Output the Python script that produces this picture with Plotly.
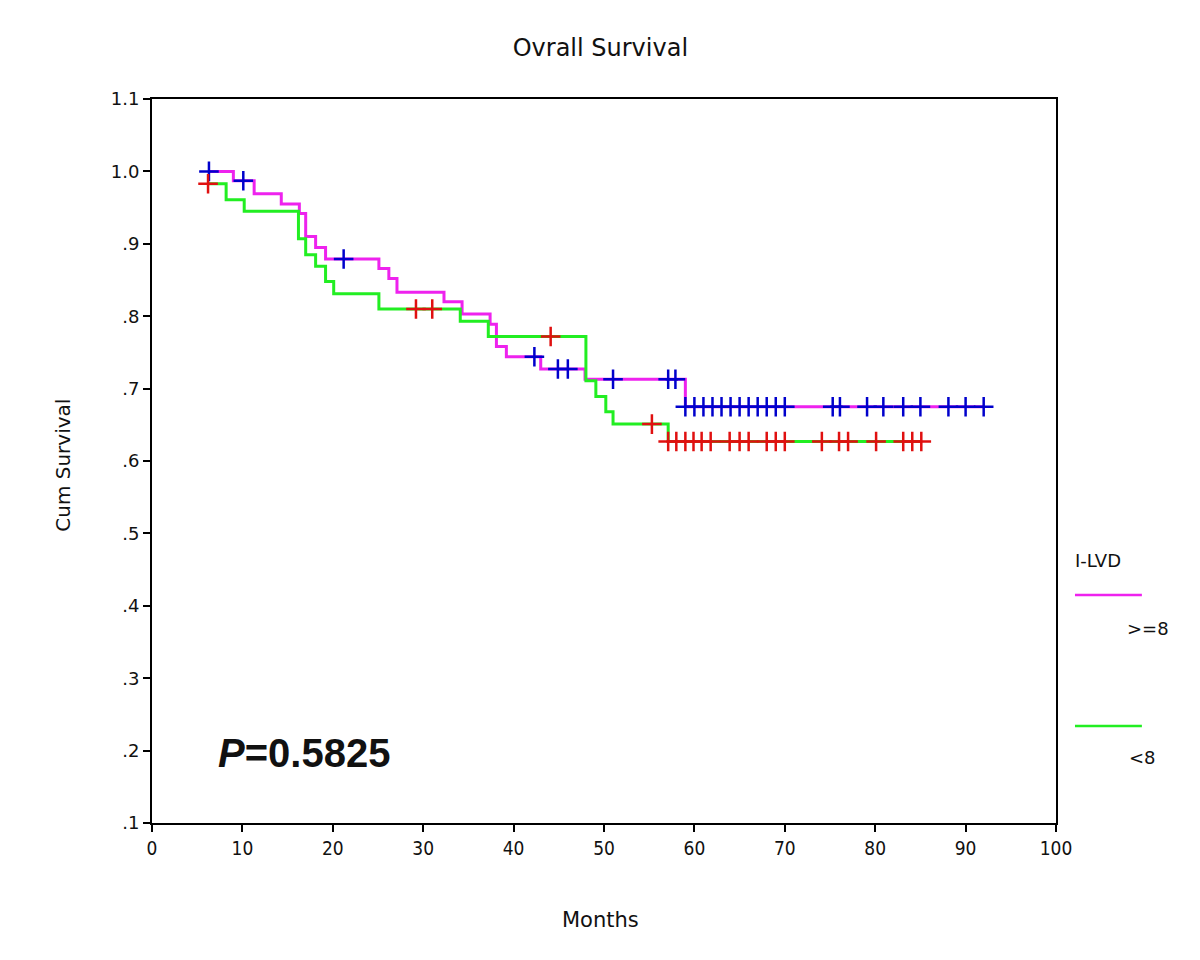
import numpy as np
import plotly.graph_objects as go

# Kaplan-Meier step data (months, cum survival)
hi_times = [6.2, 9.0, 11.3, 14.3, 16.3, 17.0, 18.1, 19.2, 25.1, 26.2, 27.1, 32.3, 34.3,
            37.4, 38.1, 39.2, 43.0, 47.9, 59.0, 92.0]
hi_surv = [1.000, 0.987, 0.969, 0.955, 0.942, 0.910, 0.895, 0.879, 0.866, 0.852, 0.833,
           0.820, 0.803, 0.789, 0.758, 0.744, 0.727, 0.713, 0.675, 0.675]
hi_censored = [6.3, 10.1, 21.2, 42.3, 44.9, 46.0, 51.0, 57.1, 57.9, 59.0, 60.0, 61.0, 62.0,
               63.0, 64.0, 65.0, 66.0, 67.0, 68.0, 69.0, 70.0, 75.3, 76.1, 79.1, 80.9,
               83.1, 85.0, 88.1, 90.0, 92.0]

lo_times = [6.2, 8.2, 10.2, 16.2, 17.0, 18.1, 19.2, 20.1, 25.1, 34.1, 37.2, 48.0, 49.1,
            50.2, 51.0, 57.1, 85.0]
lo_surv = [0.983, 0.961, 0.945, 0.907, 0.885, 0.869, 0.848, 0.831, 0.810, 0.793, 0.772,
           0.711, 0.689, 0.668, 0.651, 0.627, 0.627]
lo_censored = [6.2, 29.2, 31.0, 44.1, 55.3, 57.1, 58.0, 59.0, 59.9, 60.8, 61.8, 63.9, 65.0,
               66.0, 68.0, 69.0, 70.0, 74.1, 76.0, 77.0, 80.1, 83.1, 84.1, 85.1]

y_ticks = [0.1, 0.2, 0.3, 0.4, 0.5, 0.6, 0.7, 0.8, 0.9, 1.0, 1.1]
y_labels = [".1", ".2", ".3", ".4", ".5", ".6", ".7", ".8", ".9", "1.0", "1.1"]
x_ticks = list(range(0, 101, 10))


def censor_y(times, surv, cens):
    idx = np.searchsorted(times, cens, side="right") - 1
    idx = np.clip(idx, 0, len(surv) - 1)
    return [surv[i] for i in idx]


fig = go.Figure()

groups = [
    (hi_times, hi_surv, hi_censored, "#ee22ee", "#0000cc", ">=8"),
    (lo_times, lo_surv, lo_censored, "#22ee22", "#e01010", "<8"),
]
for times, surv, cens, line_color, mark_color, name in groups:
    fig.add_trace(go.Scatter(
        x=times, y=surv, mode="lines", line=dict(color=line_color, width=3, shape="hv"),
        name=name, showlegend=False,
    ))
for times, surv, cens, line_color, mark_color, name in groups:
    fig.add_trace(go.Scatter(
        x=cens, y=censor_y(times, surv, cens), mode="markers",
        marker=dict(symbol="cross-thin", size=14, line=dict(color=mark_color, width=2.5)),
        showlegend=False,
    ))

font = "DejaVu Sans"
txt = "#111"

# Legend drawn by hand to match the original layout
legend_items = [(0.315, 1.076, 0.269, "#ee22ee", ">=8"), (0.134, 1.079, 0.091, "#22ee22", "<8")]
for line_y, text_x, text_y, color, label in legend_items:
    fig.add_shape(type="line", xref="paper", yref="paper", x0=1.021, x1=1.095,
                  y0=line_y, y1=line_y, line=dict(color=color, width=2.5))
    fig.add_annotation(xref="paper", yref="paper", x=text_x, y=text_y, text=label,
                       showarrow=False, xanchor="left", yanchor="middle",
                       font=dict(family=font, size=18, color=txt))
fig.add_annotation(xref="paper", yref="paper", x=1.019, y=0.363, text="I-LVD",
                   showarrow=False, xanchor="left", yanchor="middle",
                   font=dict(family=font, size=18, color=txt))

fig.add_annotation(xref="paper", yref="paper", x=0.071, y=0.097,
                   text="<b><i>P</i>=0.5825</b>", showarrow=False,
                   xanchor="left", yanchor="middle",
                   font=dict(family="Liberation Sans", size=40, color=txt))

# axis titles
fig.add_annotation(xref="paper", yref="paper", x=-0.098, y=0.494, text="Cum Survival",
                   textangle=-90, showarrow=False, xanchor="center", yanchor="middle",
                   font=dict(family=font, size=20, color=txt))
fig.add_annotation(xref="paper", yref="paper", x=0.496, y=-0.134, text="Months",
                   showarrow=False, xanchor="center", yanchor="middle",
                   font=dict(family=font, size=21, color=txt))

fig.update_layout(
    title=dict(text="Ovrall Survival", x=0.496, xref="paper", y=0.959, yanchor="middle",
               xanchor="center", font=dict(family=font, size=24, color=txt)),
    width=1200, height=960,
    margin=dict(l=144, r=152, t=91, b=145),
    paper_bgcolor="white", plot_bgcolor="white",
    xaxis=dict(
        range=[0, 100], tickvals=x_ticks, ticks="outside", ticklen=7, tickwidth=2,
        tickcolor="black", showline=True, linecolor="black", linewidth=2, mirror=True,
        showgrid=False, zeroline=False,
        tickfont=dict(family="DejaVu Sans Condensed, Liberation Sans", size=19, color=txt),
    ),
    yaxis=dict(
        range=[0.1, 1.1], tickvals=y_ticks, ticktext=y_labels, ticks="outside", ticklen=7,
        tickwidth=2, tickcolor="black", showline=True, linecolor="black", linewidth=2,
        mirror=True, showgrid=False, zeroline=False,
        tickfont=dict(family=font, size=18, color=txt),
    ),
)

fig.write_html("out.html")
